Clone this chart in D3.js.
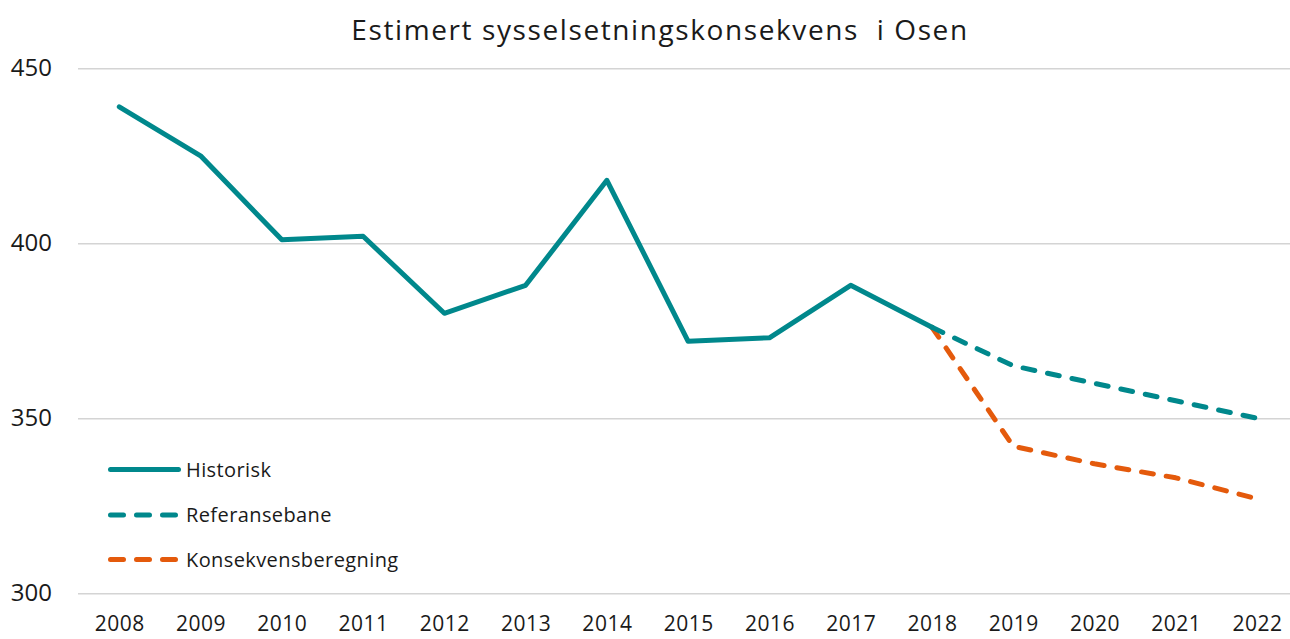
<!DOCTYPE html>
<html>
<head>
<meta charset="utf-8">
<script src="https://cdn.jsdelivr.net/npm/d3@7"></script>
<style>
  html, body { margin: 0; padding: 0; background: #fff; }
  svg text { font-family: "Open Sans", "Noto Sans", sans-serif; fill: #1a1a1a; }
</style>
</head>
<body>
<svg id="chart" width="1290" height="639"></svg>
<script>
// Employment in Osen: history and two projections
const years = [2008, 2009, 2010, 2011, 2012, 2013, 2014, 2015, 2016, 2017, 2018, 2019, 2020, 2021, 2022];
const historisk = [439, 425, 401, 402, 380, 388, 418, 372, 373, 388, 376];
const referanseYears = [2018, 2019, 2020, 2021, 2022];
const referansebane = [376, 365, 360, 355, 350];
const konsekvensYears = [2018, 2019, 2020, 2021, 2022];
const konsekvensberegning = [376, 342, 337, 333, 327];
const yTicks = [300, 350, 400, 450];

const teal = "#00888C";
const orange = "#E45A0C";

const svg = d3.select("#chart");
const plotLeft = 78, plotRight = 1290, plotTop = 68.3, plotBottom = 593.3;

const x = d3.scalePoint().domain(years).range([119.3, 1257]);
const y = d3.scaleLinear().domain([300, 450]).range([plotBottom, plotTop]);

// Title
svg.append("text")
  .attr("x", 660).attr("y", 40)
  .attr("text-anchor", "middle")
  .style("font-size", "28px")
  .style("letter-spacing", "1.6px")
  .style("white-space", "pre")
  .text("Estimert sysselsetningskonsekvens  i Osen");

// Horizontal gridlines and y labels
const yAxis = d3.axisLeft(y).tickValues(yTicks).tickSize(-(plotRight - plotLeft)).tickPadding(26);
const gy = svg.append("g").attr("transform", `translate(${plotLeft},0)`).call(yAxis);
gy.select(".domain").remove();
gy.selectAll(".tick line").attr("stroke", "#d4d4d4").attr("stroke-width", 1.5);
gy.selectAll(".tick text").style("font-size", "24px").attr("fill", "#1a1a1a");

// Year labels
const xAxis = d3.axisBottom(x).tickSize(0).tickPadding(23);
const gx = svg.append("g").attr("transform", `translate(0,${plotBottom})`).call(xAxis);
gx.select(".domain").remove();
gx.selectAll(".tick text").style("font-size", "21px").style("letter-spacing", "0.5px").attr("fill", "#1a1a1a");

const line = d3.line().x(d => x(d[0])).y(d => y(d[1]));

const series = [
  { name: "Historisk", pts: d3.zip(years.slice(0, historisk.length), historisk), color: teal, dash: null },
  { name: "Referansebane", pts: d3.zip(referanseYears, referansebane), color: teal, dash: "12,13" },
  { name: "Konsekvensberegning", pts: d3.zip(konsekvensYears, konsekvensberegning), color: orange, dash: "12,13" }
];

// Draw projections first so the historical line sits on top at 2018
[series[2], series[1], series[0]].forEach(s => {
  svg.append("path")
    .datum(s.pts)
    .attr("d", line)
    .attr("fill", "none")
    .attr("stroke", s.color)
    .attr("stroke-width", 5)
    .attr("stroke-linecap", "round")
    .attr("stroke-linejoin", "round")
    .attr("stroke-dasharray", s.dash);
});

// Legend
const legend = svg.append("g");
const legendRows = [469.5, 515, 559.5];
series.forEach((s, i) => {
  const g = legend.append("g").attr("transform", `translate(0,${legendRows[i]})`);
  g.append("line")
    .attr("x1", 110.5).attr("x2", 178.5).attr("y1", 0).attr("y2", 0)
    .attr("stroke", s.color).attr("stroke-width", 5)
    .attr("stroke-linecap", "round")
    .attr("stroke-dasharray", s.dash ? "13,13" : null);
  g.append("text")
    .attr("x", 186).attr("y", 7)
    .style("font-size", "20px")
    .style("letter-spacing", "0.4px")
    .text(s.name);
});
</script>
</body>
</html>
